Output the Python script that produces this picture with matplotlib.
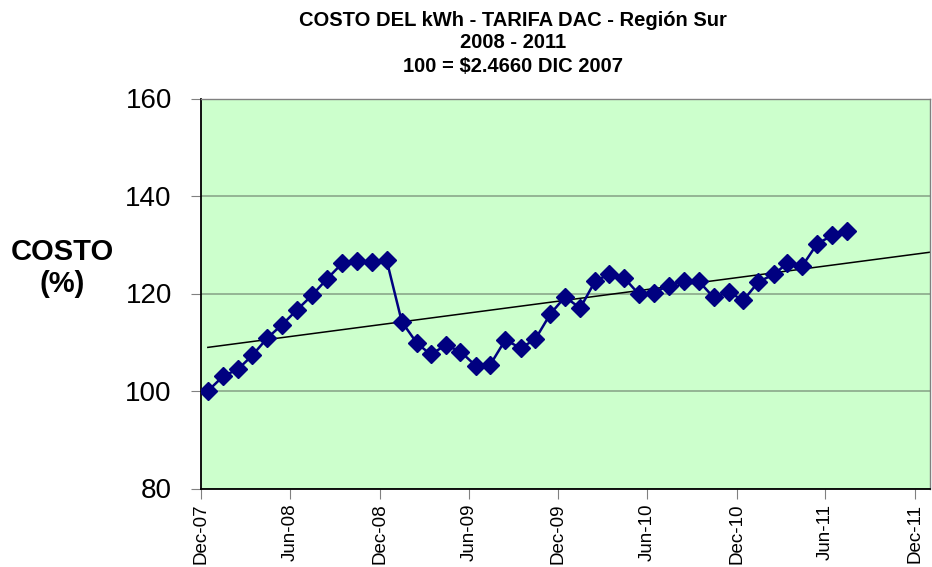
import numpy as np
import pandas as pd
import matplotlib
matplotlib.use("Agg")
import matplotlib.pyplot as plt
import matplotlib.dates as mdates

plt.rcParams['font.family'] = ['Liberation Sans', 'DejaVu Sans']

# monthly index values, Dec-2007 .. Jul-2011 (plotted mid-month)
months = pd.date_range("2007-12-01", periods=44, freq="MS") + pd.Timedelta(days=14)
costo = [100.0, 103.0, 104.5, 107.3, 110.9, 113.6, 116.7, 119.6, 123.0, 126.2,
         126.6, 126.5, 126.8, 114.2, 109.8, 107.5, 109.4, 108.1, 105.2, 105.4,
         110.5, 108.8, 110.6, 115.8, 119.3, 117.0, 122.6, 123.9, 123.2, 119.9,
         120.2, 121.6, 122.6, 122.5, 119.2, 120.3, 118.6, 122.4, 123.9, 126.2,
         125.7, 130.2, 131.9, 132.9]

tick_dates = pd.date_range("2007-12-01", "2011-12-01", freq="6MS")
tick_labels = [d.strftime("%b-%y") for d in tick_dates]

title_lines = ["COSTO DEL kWh - TARIFA DAC - Región Sur", "2008 - 2011",
               "100 = $2.4660 DIC 2007"]

x0 = pd.Timestamp("2007-12-01")
x1 = pd.Timestamp("2012-01-01")

fig = plt.figure(figsize=(9.32, 5.67), dpi=100)
ax = fig.add_axes([201 / 932, 1 - 488.5 / 567, 729 / 932, 390 / 567])
ax.set_facecolor("#CCFFCC")

xn = mdates.date2num(months)
ax.plot(xn, costo, color="#000080", lw=1.8, marker="D", ms=9.5, zorder=3)

# linear trend, extended forward to the end of the axis
k, b = np.polyfit(xn, costo, 1)
tx = np.array([xn[0], mdates.date2num(x1)])
ax.plot(tx, k * tx + b, color="black", lw=1.1, zorder=2)

ax.set_xlim(mdates.date2num(x0), mdates.date2num(x1))
ax.set_ylim(80, 160)
ax.set_yticks([80, 100, 120, 140, 160])
ax.set_xticks(mdates.date2num(tick_dates))
ax.set_xticklabels(tick_labels, rotation=90, fontsize=13.5)
ax.tick_params(axis="y", labelsize=20, length=7, color="#808080", pad=14)
ax.tick_params(axis="x", length=7, color="#808080", pad=4)
ax.grid(axis="y", color="#8AA88A", lw=1.2)
ax.set_axisbelow(True)

for s in ["left", "bottom"]:
    ax.spines[s].set_color("black")
    ax.spines[s].set_linewidth(1.3)
for s in ["top", "right"]:
    ax.spines[s].set_color("#808080")
    ax.spines[s].set_linewidth(1.0)

for i, line in enumerate(title_lines):
    fig.text(513 / 932, 1 - (20 + 23 * i) / 567, line, ha="center", va="center",
             fontsize=14.5, fontweight="bold")
fig.text(62 / 932, 1 - 268 / 567, "COSTO\n(%)", ha="center", va="center",
         fontsize=21, fontweight="bold", linespacing=1.2)

fig.savefig("out.png", dpi=100)
